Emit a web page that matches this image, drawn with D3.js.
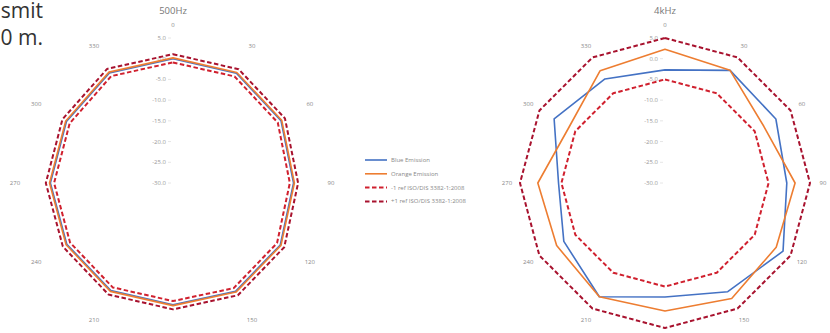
<!DOCTYPE html>
<html>
<head>
<meta charset="utf-8">
<script src="https://cdn.jsdelivr.net/npm/d3@7"></script>
<style>
  body { margin: 0; background: #fff; }
  svg { display: block; }
</style>
</head>
<body>
<svg id="chart" width="830" height="333"></svg>
<script>
// Measurement angles (degrees) and their labels
const angles = [0, 30, 60, 90, 120, 150, 180, 210, 240, 270, 300, 330];
const angleLabels = ["0", "30", "60", "90", "120", "150", "180", "210", "240", "270", "300", "330"];
const radialTicks = [5, 0, -5, -10, -15, -20, -25, -30];

// 500 Hz directivity (dB)
const blue500   = [0.0, 0.6, 0.1, -0.9, -0.1, 0.2, -0.6, 0.0, -0.4, -0.4, -0.3, 0.7];
const orange500 = [0.2, 0.8, 0.3, -0.7, 0.1, 0.4, -0.4, 0.2, -0.2, -0.2, -0.1, 0.9];
const lower500  = [-0.9, -0.3, -0.8, -1.8, -1.0, -0.7, -1.5, -0.9, -1.3, -1.3, -1.2, -0.2];
const upper500  = [1.1, 1.7, 1.2, 0.2, 1.0, 1.3, 0.5, 1.1, 0.7, 0.7, 0.8, 1.8];

// 4 kHz directivity (dB)
const blue4k   = [-2.7, 1.4, 0.9, -0.6, 2.9, 0.3, -2.5, 1.7, -1.8, -4.3, 0.9, -1.0];
const orange4k = [2.3, 1.4, -2.5, 1.4, 1.0, 2.2, 0.9, 1.7, 0.2, 0.7, -3.2, 1.3];
const lower4k  = [-5.0, -5.0, -5.0, -5.0, -5.0, -5.0, -5.0, -5.0, -5.0, -5.0, -5.0, -5.0];
const upper4k  = [5.0, 5.0, 5.0, 5.0, 5.0, 5.0, 5.0, 5.0, 5.0, 5.0, 5.0, 5.0];

// Legend entries
const legendLabels = ["Blue Emission", "Orange Emission", "-1 ref ISO/DIS 3382-1:2008", "+1 ref ISO/DIS 3382-1:2008"];

const COLORS = { blue: "#4472c4", orange: "#ed7d31", lower: "#d0202e", upper: "#a8122e" };
const FONT = "'Open Sans', 'Liberation Sans', sans-serif";

const svg = d3.select("#chart");

// Page text running in from the left
svg.append("text").attr("x", 43).attr("y", 18).attr("text-anchor", "end")
  .attr("font-family", FONT).attr("font-size", 21).attr("fill", "#333").text("smit");
svg.append("text").attr("x", 43).attr("y", 45).attr("text-anchor", "end")
  .attr("font-family", FONT).attr("font-size", 21).attr("fill", "#333").text("0 m.");

const r = d3.scaleLinear().domain([-30, 5]).range([0, 145]);
const toRad = d => d * Math.PI / 180;

function radar(cx, cy, title, series) {
  const g = svg.append("g").attr("transform", `translate(${cx},${cy})`);

  g.append("text").attr("x", 0).attr("y", -169).attr("text-anchor", "middle")
    .attr("font-family", FONT).attr("font-size", 9.5).attr("fill", "#777").text(title);

  // angle labels
  g.selectAll("text.ang").data(angles).join("text").attr("class", "ang")
    .attr("x", d => 158 * Math.sin(toRad(d)))
    .attr("y", d => -158 * Math.cos(toRad(d)) + 2)
    .attr("text-anchor", "middle")
    .attr("font-family", FONT).attr("font-size", 6).attr("fill", "#888")
    .text((d, i) => angleLabels[i]);

  // radial value ticks
  g.selectAll("text.tick").data(radialTicks).join("text").attr("class", "tick")
    .attr("x", -7).attr("y", d => -r(d) + 2)
    .attr("text-anchor", "end")
    .attr("font-family", FONT).attr("font-size", 6).attr("fill", "#999")
    .text(d => d.toFixed(1));
  g.selectAll("line.tick").data(radialTicks).join("line").attr("class", "tick")
    .attr("x1", -5).attr("x2", -2).attr("y1", d => -r(d)).attr("y2", d => -r(d))
    .attr("stroke", "#e6e6e6").attr("stroke-width", 1);

  const line = d3.lineRadial()
    .angle((d, i) => toRad(angles[i]))
    .radius(d => r(d))
    .curve(d3.curveLinearClosed);

  series.forEach(s => {
    g.append("path").datum(s.values)
      .attr("d", line)
      .attr("fill", "none")
      .attr("stroke", s.color)
      .attr("stroke-width", s.dash ? 2 : 1.6)
      .attr("stroke-dasharray", s.dash ? "4.5,2.5" : null)
      .attr("stroke-linejoin", "round");
  });
}

radar(173, 183, "500Hz", [
  { values: lower500, color: COLORS.lower, dash: true },
  { values: upper500, color: COLORS.upper, dash: true },
  { values: blue500, color: COLORS.blue },
  { values: orange500, color: COLORS.orange }
]);

radar(665, 183, "4kHz", [
  { values: lower4k, color: COLORS.lower, dash: true },
  { values: upper4k, color: COLORS.upper, dash: true },
  { values: blue4k, color: COLORS.blue },
  { values: orange4k, color: COLORS.orange }
]);

// Legend
const legendStyles = [
  { color: COLORS.blue, dash: null, w: 1.6 },
  { color: COLORS.orange, dash: null, w: 1.6 },
  { color: COLORS.lower, dash: "4.5,2.5", w: 2 },
  { color: COLORS.upper, dash: "4.5,2.5", w: 2 }
];
const lg = svg.append("g").attr("transform", "translate(365,160)");
legendLabels.forEach((lab, i) => {
  const y = i * 13.8;
  lg.append("line").attr("x1", 0).attr("x2", 22).attr("y1", y).attr("y2", y)
    .attr("stroke", legendStyles[i].color).attr("stroke-width", legendStyles[i].w)
    .attr("stroke-dasharray", legendStyles[i].dash);
  lg.append("text").attr("x", 26).attr("y", y + 2).attr("font-family", FONT)
    .attr("font-size", 6).attr("fill", "#888").text(lab);
});
</script>
</body>
</html>
